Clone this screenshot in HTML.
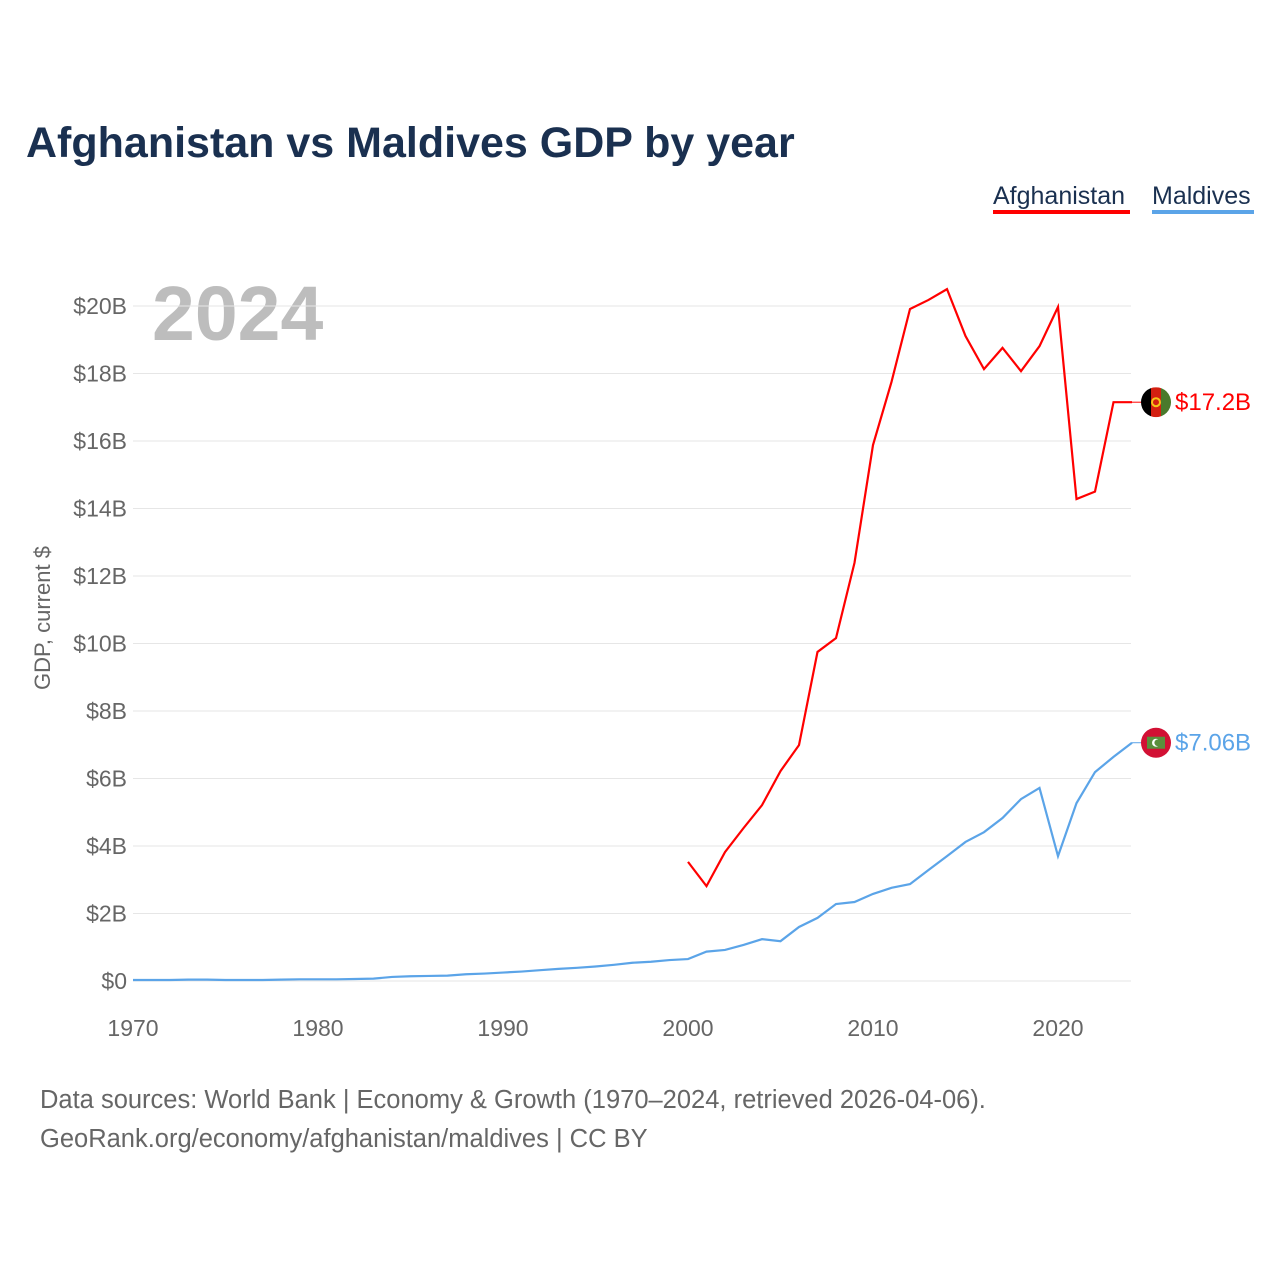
<!DOCTYPE html>
<html><head><meta charset="utf-8"><style>
body{margin:0;background:#fff;font-family:"Liberation Sans",sans-serif;}
svg text{font-family:"Liberation Sans",sans-serif;}
</style></head><body>
<svg id="chart" width="1280" height="1280" viewBox="0 0 1280 1280" xmlns="http://www.w3.org/2000/svg">
<text x="26" y="157" font-size="43" font-weight="bold" fill="#1a3050">Afghanistan vs Maldives GDP by year</text>
<g><text x="993" y="204" font-size="25" fill="#1a3050">Afghanistan</text><rect x="993" y="210" width="137" height="4" fill="#ff0000"/></g>
<g><text x="1152" y="204" font-size="25" fill="#1a3050">Maldives</text><rect x="1152" y="210" width="102" height="4" fill="#5ba4e8"/></g>
<text x="152" y="340" font-size="77" font-weight="bold" fill="#bdbdbd">2024</text>
<text transform="translate(50,618) rotate(-90)" text-anchor="middle" font-size="22" fill="#666">GDP, current $</text>
<g id="grid"></g><g id="axes"></g><g id="lines"></g>
<text x="40" y="1108" font-size="25.5" fill="#666">Data sources: World Bank | Economy &amp; Growth (1970–2024, retrieved 2026-04-06).</text>
<text x="40" y="1147" font-size="25.5" fill="#666">GeoRank.org/economy/afghanistan/maldives | CC BY</text>
</svg>
<script>
const yTicks=[0,2,4,6,8,10,12,14,16,18,20];
const yTickLabels=["$0","$2B","$4B","$6B","$8B","$10B","$12B","$14B","$16B","$18B","$20B"];
const xTicks=[1970,1980,1990,2000,2010,2020];
const afgYears=[2000,2001,2002,2003,2004,2005,2006,2007,2008,2009,2010,2011,2012,2013,2014,2015,2016,2017,2018,2019,2020,2021,2022,2023,2024];
const afgValues=[3.53,2.81,3.82,4.53,5.21,6.22,6.99,9.75,10.16,12.39,15.88,17.75,19.91,20.18,20.5,19.11,18.13,18.76,18.07,18.81,19.97,14.28,14.5,17.15,17.15];
const mdvStart=1970;
const mdvValues=[0.03,0.03,0.03,0.04,0.04,0.03,0.03,0.03,0.04,0.05,0.05,0.05,0.06,0.07,0.12,0.14,0.15,0.16,0.2,0.22,0.25,0.28,0.32,0.36,0.39,0.43,0.48,0.54,0.57,0.62,0.65,0.87,0.92,1.07,1.24,1.18,1.6,1.87,2.28,2.34,2.58,2.76,2.87,3.29,3.7,4.12,4.41,4.83,5.39,5.72,3.7,5.27,6.19,6.64,7.06];
const afgLabel="$17.2B", mdvLabel="$7.06B";
const NS="http://www.w3.org/2000/svg";
const x=yr=>133+(yr-1970)*18.5;
const y=v=>981-v*33.75;
function mk(tag,attrs,parent){const e=document.createElementNS(NS,tag);for(const k in attrs)e.setAttribute(k,attrs[k]);parent.appendChild(e);return e;}
const grid=document.getElementById('grid'),axes=document.getElementById('axes'),lines=document.getElementById('lines');
yTicks.forEach((t,i)=>{
 const l=mk('line',{x1:133,x2:1131,y1:y(t),y2:y(t),stroke:'#e6e6e6','stroke-width':1},grid);
 
 
 const tx=mk('text',{x:127,y:y(t)+8,'text-anchor':'end','font-size':23,fill:'#666'},axes);
 
 
 tx.textContent=yTickLabels[i];
});
xTicks.forEach(t=>{
 const tx=mk('text',{x:x(t),y:1036,'text-anchor':'middle','font-size':23,fill:'#666'},axes);
 
 
 tx.textContent=t;
});
const afgPts=afgYears.map((yr,i)=>x(yr)+','+y(afgValues[i])).join(' ');
const a=mk('polyline',{points:afgPts,fill:'none',stroke:'#ff0000','stroke-width':2.2},lines);


const mdvPts=mdvValues.map((v,i)=>x(mdvStart+i)+','+y(v)).join(' ');
const m=mk('polyline',{points:mdvPts,fill:'none',stroke:'#5ba4e8','stroke-width':2.2},lines);


function endLabel(val,col,label,name,flag){
 const yy=y(val),cx=1156;
 mk('line',{x1:x(2024),x2:cx-14,y1:yy,y2:yy,stroke:col,'stroke-width':1},lines);
 const g=mk('g',{},lines);
 
 
 flag(g,cx,yy);
 const t=mk('text',{x:1175,y:yy+8,'font-size':24,fill:col},lines);
 
 
 t.textContent=label;
}
endLabel(afgValues[afgValues.length-1],'#ff0000',afgLabel,'afghanistan',(g,cx,cy)=>{
 const cp=mk('clipPath',{id:'ca'},g);
 mk('circle',{cx:cx,cy:cy,r:15},cp);
 const gg=mk('g',{'clip-path':'url(#ca)'},g);
 mk('rect',{x:cx-15,y:cy-15,width:10,height:30,fill:'#000'},gg);
 mk('rect',{x:cx-5,y:cy-15,width:10,height:30,fill:'#d32011'},gg);
 mk('rect',{x:cx+5,y:cy-15,width:10,height:30,fill:'#4a7a2c'},gg);
 mk('circle',{cx:cx,cy:cy,r:4,fill:'none',stroke:'#f5c518','stroke-width':2},g);
});
endLabel(mdvValues[mdvValues.length-1],'#5ba4e8',mdvLabel,'maldives',(g,cx,cy)=>{
 mk('circle',{cx:cx,cy:cy,r:15,fill:'#d21034'},g);
 mk('rect',{x:cx-9,y:cy-6,width:18,height:12,fill:'#5a8f3c'},g);
 mk('circle',{cx:cx,cy:cy,r:4,fill:'#fff'},g);
 mk('circle',{cx:cx+1.8,cy:cy,r:3.4,fill:'#5a8f3c'},g);
});
</script>
</body></html>
